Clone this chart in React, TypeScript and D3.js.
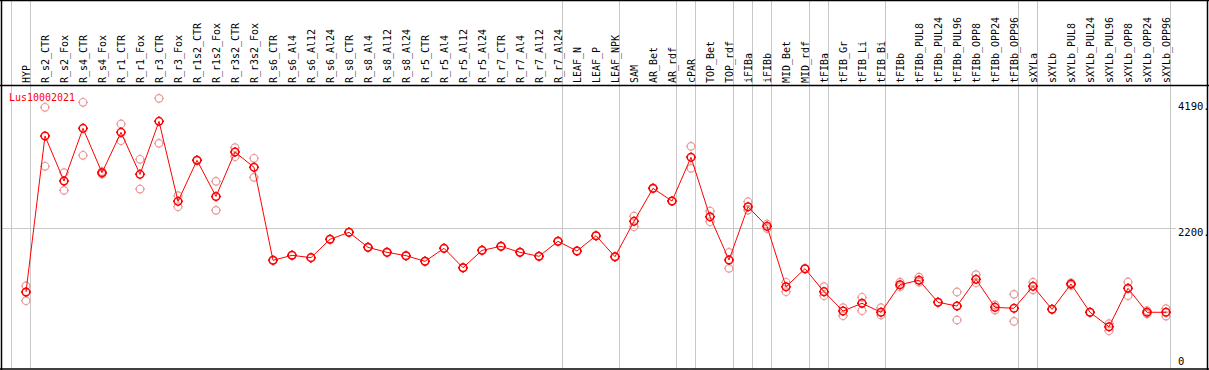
import React from "react";
import * as d3 from "d3";

const categories = [
  "HYP", "R_s2_CTR", "R_s2_Fox", "R_s4_CTR", "R_s4_Fox", "R_r1_CTR", "R_r1_Fox",
  "R_r3_CTR", "R_r3_Fox", "R_r1s2_CTR", "R_r1s2_Fox", "R_r3s2_CTR", "R_r3s2_Fox",
  "R_s6_CTR", "R_s6_Al4", "R_s6_Al12", "R_s6_Al24", "R_s8_CTR", "R_s8_Al4",
  "R_s8_Al12", "R_s8_Al24", "R_r5_CTR", "R_r5_Al4", "R_r5_Al12", "R_r5_Al24",
  "R_r7_CTR", "R_r7_Al4", "R_r7_Al12", "R_r7_Al24", "LEAF_N", "LEAF_P", "LEAF_NPK",
  "SAM", "AR_Bet", "AR_rdf", "cPAR", "TOP_Bet", "TOP_rdf", "iFIBa", "iFIBb",
  "MID_Bet", "MID_rdf", "tFIBa", "tFIB_Gr", "tFIB_Li", "tFIB_Bi", "tFIBb",
  "tFIBb_PUL8", "tFIBb_PUL24", "tFIBb_PUL96", "tFIBb_OPP8", "tFIBb_OPP24",
  "tFIBb_OPP96", "sXYLa", "sXYLb", "sXYLb_PUL8", "sXYLb_PUL24", "sXYLb_PUL96",
  "sXYLb_OPP8", "sXYLb_OPP24", "sXYLb_OPP96",
];

// mean expression per sample
const meanValues = [
  1186, 3652, 2941, 3773, 3072, 3710, 3046, 3884, 2619, 3268, 2697, 3399, 3157,
  1687, 1766, 1729, 2019, 2130, 1892, 1813, 1760, 1671, 1876, 1570, 1844,
  1908, 1813, 1750, 1987, 1834, 2076, 1744,
  2303, 2825, 2624, 3315, 2376, 1692, 2534, 2224, 1270, 1554, 1191, 885, 1007, 865,
  1301, 1371, 1023, 964, 1386, 943, 928, 1275, 912, 1312, 865, 637, 1244, 865, 865,
];

// replicates
const rep1Values = [
  1281, 4106, 3072, 4185, 3090, 3842, 3284, 4248, 2708, 3268, 2935, 3467, 3300,
  1687, 1766, 1729, 2019, 2130, 1892, 1813, 1760, 1671, 1876, 1570, 1844,
  1908, 1813, 1750, 1987, 1834, 2076, 1744,
  2387, 2825, 2624, 3489, 2466, 1813, 2613, 2260, 1339, 1554, 1270, 938, 1102, 938,
  1340, 1420, 1023, 1186, 1460, 980, 1149, 1340, 912, 1330, 865, 685, 1344, 890, 922,
];
const rep2Values = [
  1048, 3173, 2793, 3347, 3050, 3578, 2814, 3536, 2534, 3268, 2477, 3325, 2999,
  1687, 1766, 1729, 2019, 2130, 1892, 1813, 1760, 1671, 1876, 1570, 1844,
  1908, 1813, 1750, 1987, 1834, 2076, 1744,
  2218, 2825, 2624, 3141, 2297, 1560, 2482, 2190, 1191, 1554, 1128, 811, 891, 822,
  1270, 1340, 1023, 743, 1333, 900, 722, 1220, 912, 1290, 865, 574, 1128, 840, 806,
];

// vertical separators drawn at the left edge of these samples
const separatorStarts = [
  "HYP", "R_s2_CTR", "LEAF_N", "SAM", "cPAR", "TOP_Bet", "iFIBa", "iFIBb",
  "MID_Bet", "tFIBa", "tFIB_Gr", "tFIBb", "sXYLa", "sXYLb",
];

const yTicks = [4190, 2200, 0];
const geneName = "Lus10002021";

const W = 1209;
const H = 370;
const font = "'DejaVu Sans Mono', monospace";

const Marker = ({ cx, cy, color, sw }: { cx: number; cy: number; color: string; sw: number }) => (
  <g stroke={color} strokeWidth={sw} fill="none">
    <circle cx={cx} cy={cy} r={3.8} />
    <line x1={cx} y1={cy - 3.8} x2={cx} y2={cy - 5} />
    <line x1={cx} y1={cy + 3.8} x2={cx} y2={cy + 5} />
    <line x1={cx - 3.8} y1={cy} x2={cx - 5} y2={cy} />
    <line x1={cx + 3.8} y1={cy} x2={cx + 5} y2={cy} />
  </g>
);

export default function App() {
  const x = d3.scaleBand<string>().domain(categories).range([11, 1170]);
  const px = (c: string) => (x(c) as number) + 15;
  const y = d3.scaleLinear().domain([0, 4190]).range([367, 102]);

  const line = d3
    .line<number>()
    .x((_, i) => px(categories[i]))
    .y((d) => y(d));

  const gridColor = "#c8c8c8";

  return (
    <svg
      width={W}
      height={H}
      style={{ position: "absolute", left: 0, top: 0, background: "#fff" }}
    >
      {/* group separators */}
      {separatorStarts.map((c) => (
        <line key={c} x1={(x(c) as number) + 0.5} x2={(x(c) as number) + 0.5} y1={0} y2={369}
          stroke={gridColor} />
      ))}
      <line x1={1170.5} x2={1170.5} y1={0} y2={369} stroke={gridColor} />

      {/* horizontal grid */}
      <line x1={1} x2={1176} y1={Math.round(y(2200)) + 0.5} y2={Math.round(y(2200)) + 0.5}
        stroke={gridColor} />

      {/* sample labels, vertical */}
      {categories.map((c) => (
        <g key={c} transform={`translate(${px(c) + 4},83)`}>
          <g transform="rotate(-90)">
            <text
              x={0}
              y={0}
              textAnchor="start"
              fontFamily={font}
              fontSize={11}
              fill="#000"
              textLength={c.length * 6}
              lengthAdjust="spacingAndGlyphs"
            >
              {c}
            </text>
          </g>
        </g>
      ))}

      {/* right axis labels */}
      {yTicks.map((t) => (
        <text
          key={t}
          x={1178}
          y={t === 0 ? 365 : Math.round(y(t)) + 8}
          fontFamily={font}
          fontSize={10.5}
          fill="#000"
        >
          {t === 0 ? "0" : `${t}.`}
        </text>
      ))}

      {/* replicates */}
      {[rep1Values, rep2Values].map((vals, k) =>
        vals.map((v, i) => (
          <Marker key={`r${k}-${i}`} cx={px(categories[i])} cy={y(v)} color="#eb9a9a" sw={1.2} />
        ))
      )}

      {/* mean line */}
      <path d={line(meanValues) || ""} fill="none" stroke="#ff0000" strokeWidth={1} />
      {meanValues.map((v, i) => (
        <Marker key={`m${i}`} cx={px(categories[i])} cy={y(v)} color="#ff0000" sw={1.5} />
      ))}

      <text x={9} y={101} fontFamily={font} fontSize={10.5} fill="#ff0000"
        textLength={geneName.length * 6} lengthAdjust="spacingAndGlyphs">
        {geneName}
      </text>

      {/* frame */}
      <line x1={0} x2={1209} y1={0.5} y2={0.5} stroke="#000" strokeWidth={1.5} />
      <line x1={0} x2={1209} y1={85.5} y2={85.5} stroke="#000" strokeWidth={1.5} />
      <line x1={0} x2={1209} y1={369} y2={369} stroke="#000" strokeWidth={1.5} />
      <line x1={1.5} x2={1.5} y1={0} y2={370} stroke="#000" strokeWidth={1.5} />
      <line x1={1207.5} x2={1207.5} y1={0} y2={370} stroke="#000" strokeWidth={1.5} />
    </svg>
  );
}
